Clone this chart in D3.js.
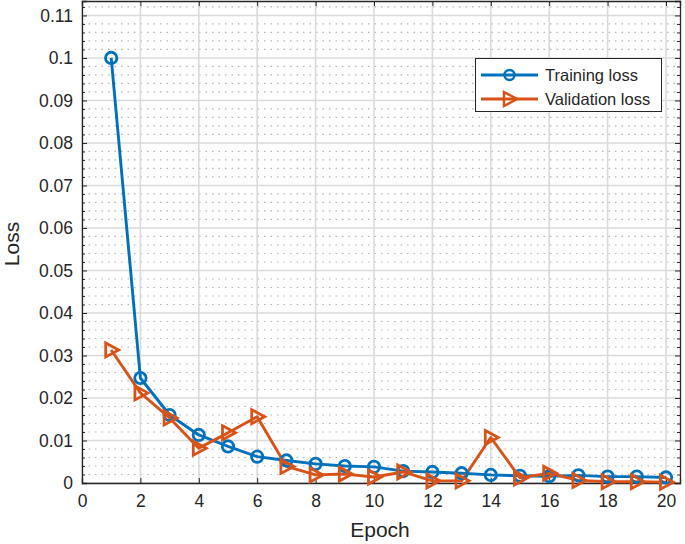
<!DOCTYPE html>
<html>
<head>
<meta charset="utf-8">
<script src="https://d3js.org/d3.v7.min.js"></script>
<style>
html,body{margin:0;padding:0;background:#fff;}
svg{display:block;font-family:"Liberation Sans",Arial,Helvetica,sans-serif;}
</style>
</head>
<body>
<svg id="chart" width="685" height="544"></svg>
<script>
const epochs = [1,2,3,4,5,6,7,8,9,10,11,12,13,14,15,16,17,18,19,20];
const trainingLoss = [0.1,0.0247,0.016,0.0113,0.0086,0.0062,0.0053,0.0045,0.004,0.0038,0.0028,0.0026,0.0023,0.0019,0.0017,0.0016,0.0018,0.0015,0.0015,0.0013];
const validationLoss = [0.0313,0.0212,0.0153,0.0082,0.0118,0.0156,0.0039,0.0019,0.0021,0.0014,0.0026,0.0005,0.0005,0.0107,0.0012,0.0023,0.0006,0.0003,0.0003,0.0002];
const xTicks = [0,2,4,6,8,10,12,14,16,18,20];
const yTicks = [0,0.01,0.02,0.03,0.04,0.05,0.06,0.07,0.08,0.09,0.1,0.11];
const yTickLabels = ["0","0.01","0.02","0.03","0.04","0.05","0.06","0.07","0.08","0.09","0.1","0.11"];
const seriesNames = ["Training loss","Validation loss"];
const colors = ["#0072BD","#D95319"];

const svg = d3.select("#chart");
const L = 82, R = 680, T = 1, B = 483;
const x = d3.scaleLinear().domain([0,20.48]).range([L,R]);
const y = d3.scaleLinear().domain([0,0.1134]).range([B,T]);

// minor horizontal grid (dotted)
const yMinor = d3.range(0,0.1134,0.002).filter(v => Math.abs(Math.round(v/0.01)*0.01 - v) > 1e-6);
svg.append("g").selectAll("line").data(yMinor).join("line")
  .attr("x1",L).attr("x2",R).attr("y1",d=>y(d)).attr("y2",d=>y(d))
  .attr("stroke","#b4b4b4").attr("stroke-width",1.2).attr("stroke-dasharray","1.5,5");
// major grid
svg.append("g").selectAll("line").data(yTicks).join("line")
  .attr("x1",L).attr("x2",R).attr("y1",d=>y(d)).attr("y2",d=>y(d))
  .attr("stroke","#dadada").attr("stroke-width",1.6);
svg.append("g").selectAll("line").data(xTicks).join("line")
  .attr("y1",T).attr("y2",B).attr("x1",d=>x(d)).attr("x2",d=>x(d))
  .attr("stroke","#dadada").attr("stroke-width",1.6);

// axes
const axisColor = "#262626";
const xAxis = d3.axisBottom(x).tickValues(xTicks).tickSize(-5).tickPadding(12).tickFormat(d3.format("d"));
const gx = svg.append("g").attr("transform",`translate(0,${B})`).call(xAxis);
const yAxis = d3.axisLeft(y).tickValues(yTicks).tickSize(-5).tickPadding(9).tickFormat((d,i)=>yTickLabels[i]);
const gy = svg.append("g").attr("transform",`translate(${L},0)`).call(yAxis);
// minor y ticks
const yMinorAxisL = d3.axisLeft(y).tickValues(yMinor).tickSize(-3).tickFormat("");
svg.append("g").attr("transform",`translate(${L},0)`).call(yMinorAxisL).select(".domain").remove();
const yAxisR = d3.axisRight(y).tickValues(yTicks).tickSize(-5).tickFormat("");
svg.append("g").attr("transform",`translate(${R},0)`).call(yAxisR);
const yMinorAxisR = d3.axisRight(y).tickValues(yMinor).tickSize(-3).tickFormat("");
svg.append("g").attr("transform",`translate(${R},0)`).call(yMinorAxisR).select(".domain").remove();
const xAxisT = d3.axisTop(x).tickValues(xTicks).tickSize(-5).tickFormat("");
svg.append("g").attr("transform",`translate(0,${T})`).call(xAxisT);

svg.selectAll(".domain").attr("stroke",axisColor).attr("stroke-width",1.3);
svg.selectAll(".tick line").attr("stroke",axisColor);
svg.selectAll(".tick text").attr("fill","#262626").attr("font-size",17.5).attr("font-family","'Liberation Sans',Arial,sans-serif");

// axis labels
svg.append("text").attr("x",(L+R)/2 - 1).attr("y",537).attr("text-anchor","middle")
  .attr("font-size",21).attr("fill","#262626").text("Epoch");
svg.append("text").attr("transform",`translate(19,${(T+B)/2 + 2}) rotate(-90)`).attr("text-anchor","middle")
  .attr("font-size",21).attr("fill","#262626").text("Loss");

// lines
const line = d3.line().x((d,i)=>x(epochs[i])).y(d=>y(d));
const data = [trainingLoss, validationLoss];
data.forEach((s,k)=>{
  svg.append("path").datum(s).attr("d",line).attr("fill","none")
    .attr("stroke",colors[k]).attr("stroke-width",2.9).attr("stroke-linejoin","round");
});
const tri = "M-5.5,-7 L7.5,0 L-5.5,7 Z";
// markers
svg.append("g").selectAll("circle").data(trainingLoss).join("circle")
  .attr("cx",(d,i)=>x(epochs[i])).attr("cy",d=>y(d)).attr("r",5.7)
  .attr("fill","none").attr("stroke",colors[0]).attr("stroke-width",2.8);
svg.append("g").selectAll("path").data(validationLoss).join("path")
  .attr("transform",(d,i)=>`translate(${x(epochs[i])},${y(d)})`).attr("d",tri)
  .attr("fill","none").attr("stroke",colors[1]).attr("stroke-width",2.8).attr("stroke-linejoin","miter");

// legend
const lg = svg.append("g");
lg.append("rect").attr("x",475.5).attr("y",58.5).attr("width",186).attr("height",53)
  .attr("fill","#fff").attr("stroke","#262626").attr("stroke-width",1);
seriesNames.forEach((n,k)=>{
  const yy = 75 + k*24;
  lg.append("line").attr("x1",481).attr("x2",538).attr("y1",yy).attr("y2",yy)
    .attr("stroke",colors[k]).attr("stroke-width",2.8);
  if(k===0){
    lg.append("circle").attr("cx",509.5).attr("cy",yy).attr("r",5).attr("fill","none")
      .attr("stroke",colors[0]).attr("stroke-width",2.5);
  } else {
    lg.append("path").attr("transform",`translate(509.5,${yy})`).attr("d",tri)
      .attr("fill","none").attr("stroke",colors[1]).attr("stroke-width",2.5);
  }
  lg.append("text").attr("x",545).attr("y",yy+6).attr("font-size",16.5).attr("fill","#262626").text(n);
});
</script>
</body>
</html>
